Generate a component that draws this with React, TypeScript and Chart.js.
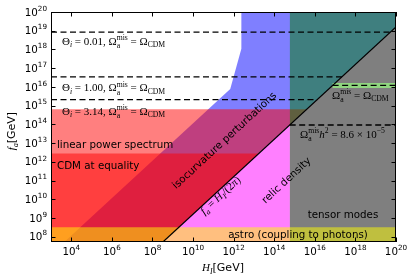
import { useEffect, useRef } from 'react';
import { Chart, registerables } from 'chart.js';

Chart.register(...registerables);

// ---- axis ranges and ticks ----
const H_RANGE = [1e3, 1e20];
const F_RANGE = [5.2e7, 1e20];
const X_TICK_EXP = [4, 6, 8, 10, 12, 14, 16, 18, 20];
const Y_TICK_EXP = [8, 9, 10, 11, 12, 13, 14, 15, 16, 17, 18, 19, 20];

// ---- regions (H_I values, f_a values) ----
const isoH = [4.5e3, 6.8e11, 2.4e12, 2.4e12, 1e20, 1e20, 3.27e8];
const isoF = [5.2e7, 7.8e15, 1.1e18, 1e20, 1e20, 1.59e19, 5.2e7];
const linearH = [1e3, 1e3, 3.96e15, 3.27e8];
const linearF = [5.2e7, 6.3e14, 6.3e14, 5.2e7];
const cdmH = [1e3, 1e3, 1.76e13, 3.27e8];
const cdmF = [5.2e7, 2.8e12, 2.8e12, 5.2e7];
const relicH = [3.27e8, 5.9e14, 5.9e14];
const relicF = [5.2e7, 9.4e13, 5.2e7];
const overH = [5.9e14, 5.9e14, 1e20, 1e20];
const overF = [9.4e13, 1e20, 1e20, 1.59e19];
const tensorH = [5.9e14, 5.9e14, 1e20, 1e20];
const tensorF = [5.2e7, 9.4e13, 1.59e19, 5.2e7];
const astroH = [1e3, 1e3, 1e20, 1e20];
const astroF = [5.2e7, 3.2e8, 3.2e8, 5.2e7];

// ---- lines ----
const diagH = [3.27e8, 1e20];
const diagF = [5.2e7, 1.59e19];
const thetaValues = ['0.01', '1.00', '3.14'];
const thetaF = [8.5e18, 3.4e16, 2.1e15];
const thetaEndH = [5.34e19, 2.14e17, 1.32e16];
const omegaCdmH = [7.54e16, 1e20];
const omegaCdmF = [1.2e16, 1.2e16];
const omegaH2H = [5.78e14, 1e20];
const omegaH2F = [9.2e13, 9.2e13];

const pts = (xs: number[], ys: number[]) => xs.map((x, i) => ({ x, y: ys[i] }));

function shape(xs: number[], ys: number[], color: string, order: number) {
  return {
    data: pts(xs, ys),
    fill: 'shape',
    backgroundColor: color,
    borderColor: 'transparent',
    borderWidth: 0,
    pointRadius: 0,
    tension: 0,
    order,
  };
}
function line(xs: number[], ys: number[], color: string, width: number, dash: number[], order: number) {
  return {
    data: pts(xs, ys),
    fill: false,
    borderColor: color,
    borderWidth: width,
    borderDash: dash,
    borderCapStyle: 'butt',
    pointRadius: 0,
    tension: 0,
    order,
  };
}

const SANS = '"DejaVu Sans", sans-serif';
const SERIF = '"Liberation Serif", "DejaVu Serif", serif';

type Part = { t: string; sans?: boolean; it?: boolean; s?: number; dy?: number; stack?: Part };

function fontOf(p: Part, size: number) {
  const sz = size * (p.s ?? 1);
  return `${p.it ? 'italic ' : ''}${sz}px ${p.sans ? SANS : SERIF}`;
}
function richWidth(ctx: CanvasRenderingContext2D, parts: Part[], size: number) {
  let w = 0;
  for (const p of parts) {
    ctx.font = fontOf(p, size);
    let pw = ctx.measureText(p.t).width;
    if (p.stack) {
      ctx.font = fontOf(p.stack, size);
      pw = Math.max(pw, ctx.measureText(p.stack.t).width);
    }
    w += pw;
  }
  return w;
}
function drawRich(ctx: CanvasRenderingContext2D, parts: Part[], x: number, y: number, size: number, align: string, rot = 0) {
  ctx.save();
  ctx.translate(x, y);
  ctx.rotate(rot);
  ctx.fillStyle = '#000';
  ctx.textBaseline = 'alphabetic';
  ctx.textAlign = 'left';
  const w = richWidth(ctx, parts, size);
  let cx = align === 'left' ? 0 : align === 'center' ? -w / 2 : -w;
  const base = size * 0.36;
  for (const p of parts) {
    ctx.font = fontOf(p, size);
    let pw = ctx.measureText(p.t).width;
    ctx.fillText(p.t, cx, base + (p.dy ?? 0) * size);
    if (p.stack) {
      ctx.font = fontOf(p.stack, size);
      const sw = ctx.measureText(p.stack.t).width;
      ctx.fillText(p.stack.t, cx, base + (p.stack.dy ?? 0) * size);
      pw = Math.max(pw, sw);
    }
    cx += pw;
  }
  ctx.restore();
}

const omegaMis: Part = { t: 'a', s: 0.7, dy: 0.28, stack: { t: 'mis', s: 0.7, dy: -0.42 } };
const sans = (t: string): Part[] => [{ t, sans: true }];
const ANG = -Math.atan2(18.75, 20.3);

const overlay = {
  id: 'overlay',
  afterDatasetsDraw(chart: any) {
    const { ctx, chartArea: a, scales } = chart;
    const xs = scales.x;
    const ys = scales.y;
    ctx.save();
    // frame
    ctx.strokeStyle = '#000';
    ctx.lineWidth = 1;
    ctx.strokeRect(a.left + 0.5, a.top + 0.5, a.right - a.left - 1, a.bottom - a.top - 1);
    // ticks
    const TL = 4.5;
    ctx.beginPath();
    for (const e of X_TICK_EXP) {
      const px = Math.round(xs.getPixelForValue(Math.pow(10, e))) + 0.5;
      ctx.moveTo(px, a.bottom); ctx.lineTo(px, a.bottom - TL);
      ctx.moveTo(px, a.top); ctx.lineTo(px, a.top + TL);
    }
    for (const e of Y_TICK_EXP) {
      const py = Math.round(ys.getPixelForValue(Math.pow(10, e))) + 0.5;
      ctx.moveTo(a.left, py); ctx.lineTo(a.left + TL, py);
      ctx.moveTo(a.right, py); ctx.lineTo(a.right - TL, py);
    }
    ctx.stroke();
    // tick labels
    const TS = 10.3;
    for (const e of X_TICK_EXP) {
      const px = xs.getPixelForValue(Math.pow(10, e));
      drawRich(ctx, [{ t: '10', sans: true }, { t: String(e), sans: true, s: 0.7, dy: -0.48 }], px, a.bottom + 9.5, TS, 'center');
    }
    for (const e of Y_TICK_EXP) {
      const py = ys.getPixelForValue(Math.pow(10, e));
      drawRich(ctx, [{ t: '10', sans: true }, { t: String(e), sans: true, s: 0.7, dy: -0.48 }], a.left - 4, py, TS, 'right');
    }
    // axis titles
    drawRich(ctx, [{ t: 'H', it: true }, { t: 'I', it: true, s: 0.7, dy: 0.25 }, { t: '[GeV]', sans: true }], 223, 267, 11, 'center');
    drawRich(ctx, [{ t: 'f', it: true }, { t: 'a', it: true, s: 0.7, dy: 0.25 }, { t: '[GeV]', sans: true }], 11, 131, 11, 'center', -Math.PI / 2);

    // theta labels
    const thetaY = [41, 87.5, 111];
    thetaValues.forEach((v, i) => {
      drawRich(ctx, [
        { t: 'Θ' }, { t: 'i', it: true, s: 0.7, dy: 0.22 }, { t: ` = ${v}, Ω` }, omegaMis, { t: ' = Ω' }, { t: 'CDM', s: 0.7, dy: 0.22 },
      ], 62, thetaY[i], 11, 'left');
    });
    drawRich(ctx, [{ t: 'Ω' }, omegaMis, { t: ' = Ω' }, { t: 'CDM', s: 0.7, dy: 0.22 }], 332, 95, 11, 'left');
    drawRich(ctx, [{ t: 'Ω' }, omegaMis, { t: 'h', it: true }, { t: '2', s: 0.7, dy: -0.42 }, { t: ' = 8.6 × 10' }, { t: '−5', s: 0.7, dy: -0.42 }], 300, 134, 11, 'left');

    // region labels
    drawRich(ctx, sans('linear power spectrum'), 57, 144, 10.3, 'left');
    drawRich(ctx, sans('CDM at equality'), 57, 165, 10.3, 'left');
    drawRich(ctx, sans('tensor modes'), 343, 214, 10.3, 'center');
    drawRich(ctx, sans('astro (coupling to photons)'), 298, 234, 10.3, 'center');
    drawRich(ctx, sans('isocurvature perturbations'), 224, 140, 10.3, 'center', ANG);
    drawRich(ctx, sans('relic density'), 286, 180, 10.3, 'center', ANG);
    drawRich(ctx, [{ t: 'f', it: true }, { t: 'a', it: true, s: 0.7, dy: 0.25 }, { t: ' = ' }, { t: 'H', it: true }, { t: 'I', it: true, s: 0.7, dy: 0.25 }, { t: '/(2' }, { t: 'π', it: true }, { t: ')' }], 220, 195, 11, 'center', ANG);
    ctx.restore();
  },
};

export default function App() {
  const ref = useRef<HTMLCanvasElement>(null);
  useEffect(() => {
    if (!ref.current) return;
    const datasets: any[] = [
      shape(isoH, isoF, 'rgba(0,0,255,0.5)', 20),
      shape(linearH, linearF, 'rgba(255,0,0,0.5)', 19),
      shape(cdmH, cdmF, 'rgba(255,0,0,0.5)', 18),
      shape(relicH, relicF, 'rgba(255,0,255,0.5)', 17),
      shape(overH, overF, 'rgba(0,128,0,0.5)', 16),
      shape(tensorH, tensorF, 'rgba(0,0,0,0.5)', 15),
      shape(astroH, astroF, 'rgba(255,255,0,0.5)', 14),
      line(omegaCdmH, omegaCdmF, 'rgb(144,214,128)', 5, [], 13),
      line(omegaCdmH, omegaCdmF, '#000', 1.3, [6, 3.5], 12),
      line(omegaH2H, omegaH2F, '#000', 1.3, [6, 3.5], 11),
      ...thetaF.map((f, i) => line([H_RANGE[0], thetaEndH[i]], [f, f], '#000', 1.3, [6, 3.5], 10 - i)),
      line(diagH, diagF, '#000', 1.2, [], 1),
    ];
    const chart = new Chart(ref.current, {
      type: 'line',
      data: { datasets },
      options: {
        responsive: false,
        animation: false,
        devicePixelRatio: 1,
        layout: { padding: { left: 51, right: 15, top: 12, bottom: 34 } },
        plugins: { legend: { display: false }, tooltip: { enabled: false } },
        scales: {
          x: { type: 'logarithmic', min: H_RANGE[0], max: H_RANGE[1], display: false },
          y: { type: 'logarithmic', min: F_RANGE[0], max: F_RANGE[1], display: false },
        },
      },
      plugins: [overlay],
    } as any);
    return () => chart.destroy();
  }, []);
  return (
    <div style={{ position: 'fixed', left: 0, top: 0, width: 411, height: 276, background: '#fff' }}>
      <canvas ref={ref} width={411} height={276} style={{ display: 'block' }} />
    </div>
  );
}
